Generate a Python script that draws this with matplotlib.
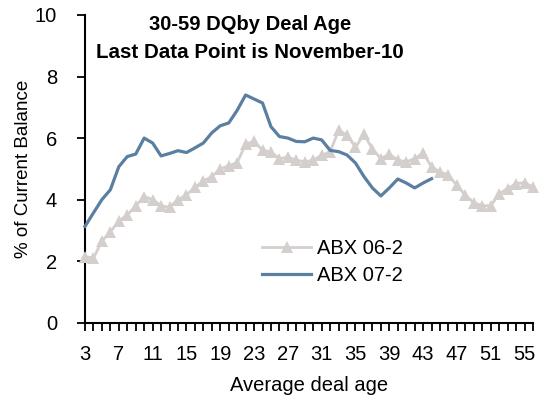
import matplotlib
matplotlib.use("Agg")
import matplotlib.pyplot as plt
import numpy as np

plt.rcParams['font.family'] = ['Liberation Sans', 'DejaVu Sans']

deal_age = list(range(3, 57))
x_labels = [str(a) for a in range(3, 57, 4)]

abx_06_2 = [2.15, 2.1, 2.65, 2.95, 3.3, 3.5, 3.8, 4.1, 4.0, 3.8,
            3.75, 4.0, 4.15, 4.4, 4.6, 4.75, 5.0, 5.1, 5.2, 5.8,
            5.9, 5.6, 5.55, 5.33, 5.38, 5.28, 5.23, 5.28, 5.44, 5.55,
            6.25, 6.1, 5.7, 6.12, 5.65, 5.33, 5.48, 5.28, 5.23, 5.33,
            5.52, 5.06, 4.9, 4.8, 4.46, 4.14, 3.9, 3.8, 3.8, 4.19,
            4.36, 4.52, 4.55, 4.41]

abx_07_2 = [3.13, 3.57, 4.0, 4.32, 5.07, 5.4, 5.48, 6.0, 5.84, 5.42,
            5.5, 5.59, 5.53, 5.68, 5.84, 6.17, 6.4, 6.49, 6.9, 7.4,
            7.27, 7.14, 6.37, 6.05, 6.0, 5.89, 5.88, 6.0, 5.94, 5.6,
            5.56, 5.45, 5.19, 4.75, 4.38, 4.12, 4.38, 4.67, 4.54, 4.38,
            4.54, 4.68]

fig = plt.figure(figsize=(5.44, 4.0), dpi=100)
L, R, T, B = 85, 533, 15, 322.7
ax = fig.add_axes([L/544, 1-B/400, (R-L)/544, (B-T)/400])

pos06 = np.arange(len(abx_06_2))
pos07 = np.arange(len(abx_07_2))

ax.plot(pos06, abx_06_2, color='#D4CFCC', lw=2.0, marker='^', ms=8.5,
        markeredgewidth=0, label='ABX 06-2', clip_on=False, zorder=3)
ax.plot(pos07, abx_07_2, color='#5A7FA1', lw=2.3, label='ABX 07-2',
        clip_on=False, zorder=4)

ax.set_xlim(0, len(deal_age) - 1)
ax.set_ylim(0, 10)
ax.set_yticks(range(0, 11, 2))
ax.set_xticks(np.arange(0, len(deal_age), 4))
ax.set_xticklabels(x_labels)
ax.set_xticks(np.arange(0, len(deal_age), 1), minor=True)
ax.tick_params(axis='x', which='major', length=6, width=1.3, direction='out', pad=10, labelsize=14.5)
ax.tick_params(axis='x', which='minor', length=6, width=1.3, direction='out')
ax.tick_params(axis='y', which='major', length=6, width=1.3, direction='out', pad=14, labelsize=14.5)

for s in ['top', 'right']:
    ax.spines[s].set_visible(False)
for s in ['left', 'bottom']:
    ax.spines[s].set_linewidth(1.5)

ax.set_xlabel('Average deal age', fontsize=14.5, labelpad=9)
ax.set_ylabel('% of Current Balance', fontsize=13.5, labelpad=2)

fig.text(250/544, 1-25/400, '30-59 DQby Deal Age', ha='center', va='center',
         fontsize=14.5, fontweight='bold')
fig.text(250/544, 1-52/400, 'Last Data Point is November-10', ha='center', va='center',
         fontsize=14.8, fontweight='bold')

leg = ax.legend(loc='upper left', bbox_to_anchor=((262-L)/(R-L), (B-239)/(B-T)),
                frameon=False, fontsize=14.5, handlelength=2.45, handletextpad=0.3,
                labelspacing=0.42, borderaxespad=0, borderpad=0)

fig.savefig('out.png', dpi=100)
